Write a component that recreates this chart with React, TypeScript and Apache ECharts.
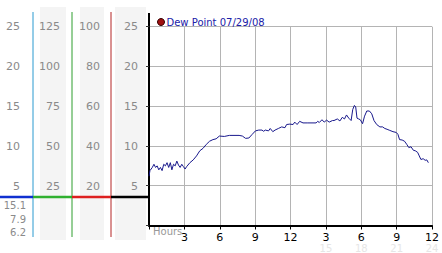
import React, { useEffect, useRef } from "react";
import * as echarts from "echarts";

const seriesName = "Dew Point 07/29/08";
const hours = [
  0.0, 0.08, 0.28, 0.42, 0.56, 0.69, 0.83, 0.97, 1.11, 1.25, 1.39, 1.53, 1.67, 1.81, 1.94, 2.08, 2.22, 2.36, 2.5, 2.64,
  2.78, 2.92, 3.06, 3.19, 3.47, 3.75, 4.03, 4.31, 4.58, 4.86, 5.14, 5.42, 5.69, 5.97, 6.39, 6.81, 7.64, 7.92, 8.19, 8.47,
  8.75, 9.03, 9.31, 9.58, 9.72, 9.86, 10.14, 10.28, 10.5, 10.69, 10.97, 11.25, 11.53, 11.67, 11.94, 12.22, 12.36, 12.56,
  12.78, 13.06, 13.47, 14.17, 14.31, 14.44, 14.67, 14.86, 15.06, 15.28, 15.56, 15.69, 15.97, 16.19, 16.39, 16.58, 16.75,
  16.94, 17.14, 17.28, 17.42, 17.53, 17.64, 17.78, 17.92, 18.11, 18.28, 18.47, 18.69, 18.89, 19.08, 19.31, 19.58, 19.81,
  20.0, 20.19, 20.42, 20.69, 20.97, 21.11, 21.25, 21.47, 21.67, 21.86, 22.03, 22.22, 22.42, 22.58, 22.78, 22.92, 23.06,
  23.25, 23.42, 23.56, 23.69,
];
const dewPoint = [
  6.2, 6.9, 7.3, 7.7, 7.3, 7.5, 7.0, 7.3, 6.9, 7.7, 7.5, 7.9, 7.3, 7.9, 7.0, 7.7, 7.5, 8.1, 7.6, 7.3,
  7.7, 7.4, 7.1, 7.4, 7.9, 8.25, 8.75, 9.4, 9.7, 10.2, 10.6, 10.8, 10.9, 11.25, 11.2, 11.33, 11.33, 11.25, 10.96, 11.0,
  11.46, 11.9, 12.0, 12.0, 11.85, 12.0, 11.9, 12.2, 11.8, 12.0, 12.2, 12.4, 12.3, 12.7, 12.75, 12.7, 13.0, 12.7,
  13.1, 12.9, 12.9, 12.9, 13.1, 12.95, 13.3, 13.0, 13.25, 13.0, 13.2, 13.2, 13.4, 13.15, 13.6, 13.4, 13.9,
  13.5, 13.2, 14.6, 15.1, 14.9, 13.5, 13.4, 13.3, 12.8, 13.75, 14.4, 14.4, 14.05, 13.2, 12.7, 12.4, 12.4,
  12.2, 12.1, 11.96, 11.8, 11.7, 11.46, 10.8, 10.75, 10.6, 10.2, 9.8, 9.9, 9.46, 9.4, 9.2, 8.75, 8.3,
  8.4, 8.2, 8.25, 7.9,
];
const dewTicks = ["25", "20", "15", "10", "5"];
const col2Ticks = ["125", "100", "75", "50", "25"];
const col3Ticks = ["100", "80", "60", "40", "20"];
const col4Ticks = ["25", "20", "15", "10", "5"];
const statLabels = ["15.1", "7.9", "6.2"];
const tickYs = [26.7, 66.7, 106.7, 146.7, 186.7];

export default function App() {
  const ref = useRef<HTMLDivElement>(null);
  useEffect(() => {
    if (!ref.current) return;
    const chart = echarts.init(ref.current, null, { renderer: "svg" });
    const font = "DejaVu Sans";
    const gray = "#8a8a8a";
    const g: any[] = [];
    [[40, 26], [80, 24], [115, 31]].forEach(([x, w]) =>
      g.push({ type: "rect", shape: { x, y: 7, width: w, height: 233 }, style: { fill: "#f4f4f4" }, z: -10 })
    );
    const cols: [string[], number][] = [[dewTicks, 20], [col2Ticks, 60], [col3Ticks, 100], [col4Ticks, 138]];
    cols.forEach(([labels, rx]) =>
      labels.forEach((t, i) =>
        g.push({
          type: "text", x: rx, y: tickYs[i],
          style: { text: t, fill: gray, font: `11px ${font}`, align: "right", verticalAlign: "middle" },
        })
      )
    );
    statLabels.forEach((t, i) =>
      g.push({
        type: "text", x: 26, y: [205, 219, 232.5][i],
        style: { text: t, fill: gray, font: `10px ${font}`, align: "right", verticalAlign: "middle" },
      })
    );
    [[33, "#2a9ad0"], [72, "#2e9e2e"], [111, "#b42424"]].forEach(([x, c]) =>
      g.push({ type: "line", shape: { x1: x, y1: 12, x2: x, y2: 237 }, style: { stroke: c, lineWidth: 1 } })
    );
    [[0, 33, "#1030d0"], [33, 72, "#30b030"], [72, 111, "#dd2020"], [111, 149, "#000"]].forEach(([a, b, c]) =>
      g.push({ type: "line", shape: { x1: a, y1: 197, x2: b, y2: 197 }, style: { stroke: c, lineWidth: 2.5 } })
    );
    g.push({ type: "line", shape: { x1: 149, y1: 13, x2: 149, y2: 27 }, style: { stroke: "#000", lineWidth: 2 } });
    g.push({
      type: "text", x: 153, y: 231.5,
      style: { text: "Hours", fill: "#999", font: `10px ${font}`, align: "left", verticalAlign: "middle" },
    });

    chart.setOption({
      animation: false,
      backgroundColor: "#fff",
      textStyle: { fontFamily: font },
      legend: {
        left: 152, top: 12, icon: "circle", itemWidth: 7, itemHeight: 7, itemGap: 4,
        data: [{ name: seriesName, itemStyle: { color: "#a01010", borderColor: "#300", borderWidth: 1 } }],
        textStyle: { color: "#2020a8", fontSize: 10, fontFamily: font, padding: [0, 0, 0, -3] },
      },
      grid: { left: 149, right: 5, top: 26.7, bottom: 26.5 },
      xAxis: {
        type: "value", min: 0, max: 24, interval: 3,
        axisLine: { lineStyle: { color: "#000", width: 2 } },
        axisTick: { show: true, length: 4, lineStyle: { color: "#000" } },
        splitLine: { show: true, lineStyle: { color: "#b4b4b4", width: 1 } },
        axisLabel: {
          margin: 6,
          formatter: (v: number) => {
            if (v === 0) return "";
            const h = v > 12 ? v - 12 : v;
            return v >= 15 ? `{a|${h}}\n{b|${v}}` : `{a|${h}}`;
          },
          rich: {
            a: { fontSize: 11, lineHeight: 11, color: "#000", fontFamily: font },
            b: { fontSize: 10, lineHeight: 11, color: "#e6e6e6", fontFamily: font },
          },
        },
      },
      yAxis: {
        type: "value", min: 0, max: 25, interval: 5,
        axisLine: { show: true, lineStyle: { color: "#000", width: 2 } },
        axisTick: { show: true, length: 3, lineStyle: { color: "#333" } },
        axisLabel: { show: false },
        splitLine: { show: true, lineStyle: { color: "#b4b4b4", width: 1 } },
      },
      series: [
        {
          name: seriesName, type: "line", showSymbol: false, symbol: "none",
          data: hours.map((h, i) => [h, dewPoint[i]]),
          lineStyle: { color: "#18188c", width: 1 },
          itemStyle: { color: "#18188c" },
        },
      ],
      graphic: g,
    });
    return () => chart.dispose();
  }, []);
  return <div ref={ref} style={{ position: "fixed", left: 0, top: 0, width: 442, height: 253 }} />;
}
